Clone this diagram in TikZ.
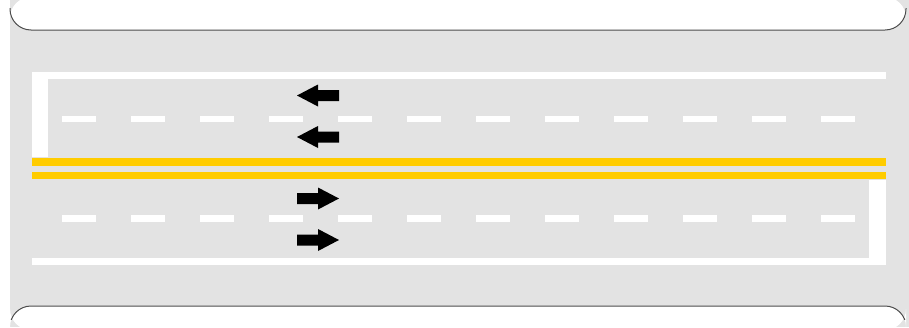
\documentclass[tikz,border=0pt]{standalone}
\begin{document}
\begin{tikzpicture}[x=1pt,y=-1pt,
  roadgrey/.style={fill=black!11},
  curb/.style={fill=white},
  curbedge/.style={draw=black!70,line width=1pt,rounded corners=21pt},
  edgeline/.style={fill=white},
  centerline/.style={fill=yellowline},
  dashmark/.style={fill=white},
  lanearrow/.style={fill=black}]
\definecolor{yellowline}{RGB}{255,204,0}
\useasboundingbox (0,0) rectangle (909,327);
% road surface
\fill[roadgrey] (10,0) rectangle (909,327);
% curbs
\path[curb,rounded corners=21pt] (10,-3) -- (10,30) -- (906,30) -- (906,-3) -- cycle;
\path[curb,rounded corners=21pt] (10,330) -- (10,306) -- (906,306) -- (906,330) -- cycle;
\begin{scope}
\clip (0,8) rectangle (909,319);
\draw[curbedge] (10,-3) -- (10,30) -- (906,30) -- (906,-3);
\draw[curbedge] (10,330) -- (10,306) -- (906,306) -- (906,330);
\end{scope}
% edge lines
\path[edgeline] (32,72) rectangle (886,79);
\path[edgeline] (32,79) rectangle (48,157);
\path[edgeline] (32,258) rectangle (886,265);
\path[edgeline] (869,180) rectangle (886,265);
% centre lines
\path[centerline] (32,158) rectangle (886,166);
\path[centerline] (32,172) rectangle (886,179);
% lane dashes
\foreach \k in {0,...,11}{
  \path[dashmark] ({62+69*\k},116) rectangle ({96+69*\k},122);
  \path[dashmark] ({62+69*\k},215) rectangle ({96+69*\k},222);
}
% arrows
\foreach \yc in {95.5,137}{
  \path[lanearrow] (297,\yc) -- (318,{\yc-11}) -- (318,{\yc-5.5}) -- (339,{\yc-5.5}) -- (339,{\yc+5.5}) -- (318,{\yc+5.5}) -- (318,{\yc+11}) -- cycle;
}
\foreach \yc in {198.5,240}{
  \path[lanearrow] (339,\yc) -- (318,{\yc-11}) -- (318,{\yc-5.5}) -- (297,{\yc-5.5}) -- (297,{\yc+5.5}) -- (318,{\yc+5.5}) -- (318,{\yc+11}) -- cycle;
}
\end{tikzpicture}
\end{document}
